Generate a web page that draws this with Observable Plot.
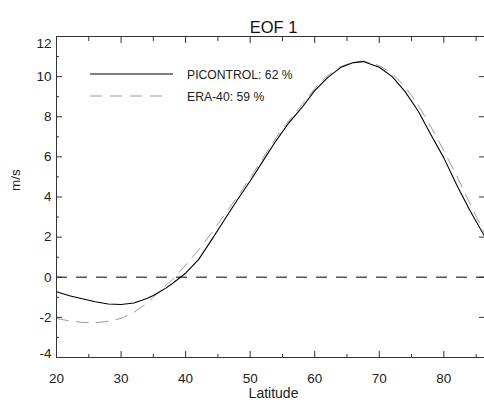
<!DOCTYPE html>
<html>
<head>
<meta charset="utf-8">
<script src="https://cdn.jsdelivr.net/npm/d3@7"></script>
<script src="https://cdn.jsdelivr.net/npm/@observablehq/plot@0.6"></script>
<style>
  html, body { margin: 0; padding: 0; background: #fff; }
  #wrap { position: relative; width: 484px; height: 405px; font-family: "Liberation Sans", Arial, sans-serif; }
  #legend { position: absolute; left: 0; top: 0; pointer-events: none; }
</style>
</head>
<body>
<div id="wrap"></div>
<script>
const title = "EOF 1";
const xLabel = "Latitude";
const yLabel = "m/s";
const seriesNames = ["PICONTROL: 62 %", "ERA-40: 59 %"];

const latitude  = [20, 22, 24, 26, 28, 30, 32, 34, 35, 36, 37, 38, 39, 40, 42, 44, 46, 48, 50, 52, 54, 56, 58, 60, 62, 64, 66, 67.5, 70, 72, 74, 76, 78, 80, 82, 84, 86.3];
const picontrol = [-0.72, -0.92, -1.07, -1.22, -1.33, -1.36, -1.28, -1.06, -0.91, -0.72, -0.53, -0.3, -0.05, 0.2, 0.88, 1.85, 2.85, 3.85, 4.8, 5.8, 6.8, 7.7, 8.45, 9.3, 9.95, 10.45, 10.7, 10.75, 10.47, 10.0, 9.25, 8.3, 7.1, 5.95, 4.6, 3.35, 2.05];
const era40     = [-2.05, -2.18, -2.25, -2.27, -2.2, -2.05, -1.75, -1.3, -1.0, -0.7, -0.38, -0.1, 0.25, 0.6, 1.35, 2.2, 3.1, 4.0, 4.95, 5.95, 6.95, 7.8, 8.6, 9.4, 10.05, 10.5, 10.72, 10.78, 10.55, 10.15, 9.5, 8.6, 7.5, 6.3, 5.05, 3.7, 2.2];

const xMajor = [20, 30, 40, 50, 60, 70, 80];
const xMinor = [25, 35, 45, 55, 65, 75, 85];
const yMajor = [-4, -2, 0, 2, 4, 6, 8, 10, 12];
const yMinor = [-3, -1, 1, 3, 5, 7, 9, 11];
const yInnerLabels = [-2, 0, 2, 4, 6, 8, 10];

const rows = latitude.map((lat, i) => ({lat, pic: picontrol[i], era: era40[i]}));

const axisColor = "#333";
const tickFont = 13.5;
const fmt = d => String(d);

const chart = Plot.plot({
  width: 484,
  height: 405,
  marginTop: 36,
  marginBottom: 48,
  marginLeft: 56,
  marginRight: 0,
  style: {fontFamily: "'Liberation Sans', Arial, sans-serif", fontSize: "13.5px", color: "#222", background: "#fff"},
  x: {domain: [20, 86.3]},
  y: {domain: [-4, 12]},
  marks: [
    Plot.ruleY([0], {stroke: "#555", strokeWidth: 1.5, strokeDasharray: "11,9"}),
    Plot.line(rows, {x: "lat", y: "era", stroke: "#9a9a9a", strokeWidth: 1, strokeDasharray: "12,8"}),
    Plot.line(rows, {x: "lat", y: "pic", stroke: "#000", strokeWidth: 1.1}),
    Plot.frame({stroke: axisColor, strokeWidth: 1}),
    // inward ticks (outward ticks shifted inside by their own length)
    Plot.axisX({anchor: "bottom", ticks: xMajor, tickSize: 6, dy: -6, tickFormat: () => "", label: null, stroke: axisColor}),
    Plot.axisX({anchor: "bottom", ticks: xMinor, tickSize: 3, dy: -3, tickFormat: () => "", label: null, stroke: axisColor}),
    Plot.axisX({anchor: "top", ticks: xMajor, tickSize: 6, dy: 6, tickFormat: () => "", label: null, stroke: axisColor}),
    Plot.axisX({anchor: "top", ticks: xMinor, tickSize: 4, dy: 4, tickFormat: () => "", label: null, stroke: axisColor}),
    Plot.axisY({anchor: "left", ticks: yMajor, tickSize: 6, dx: 6, tickFormat: () => "", label: null, stroke: axisColor}),
    Plot.axisY({anchor: "left", ticks: yMinor, tickSize: 3, dx: 3, tickFormat: () => "", label: null, stroke: axisColor}),
    Plot.axisY({anchor: "right", ticks: yMajor, tickSize: 6, dx: -6, tickFormat: () => "", label: null, stroke: axisColor}),
    // labels
    Plot.axisX({anchor: "bottom", ticks: xMajor, tickSize: 0, tickPadding: 16, tickFormat: fmt, label: null, fontSize: tickFont, fill: "#222"}),
    Plot.axisY({anchor: "left", ticks: yInnerLabels, tickSize: 0, tickPadding: 5, tickFormat: fmt, label: null, fontSize: tickFont, fill: "#222"}),
    Plot.axisY({anchor: "left", ticks: [12], tickSize: 0, tickPadding: 5, dy: 7, tickFormat: fmt, label: null, fontSize: tickFont, fill: "#222"}),
    Plot.axisY({anchor: "left", ticks: [-4], tickSize: 0, tickPadding: 5, dy: -4, tickFormat: fmt, label: null, fontSize: tickFont, fill: "#222"}),
    Plot.text([title], {text: d => d, frameAnchor: "top", dy: -15, dx: 3, fontSize: 16.5, fill: "#111"}),
    Plot.text([xLabel], {text: d => d, frameAnchor: "bottom", dy: 40, dx: 3, fontSize: 14, fill: "#222"}),
    Plot.text([yLabel], {text: d => d, frameAnchor: "left", dx: -41, dy: -6, rotate: -90, fontSize: 13.5, fill: "#222"})
  ]
});

const wrap = document.getElementById("wrap");
wrap.appendChild(chart);

// legend overlay
const ns = "http://www.w3.org/2000/svg";
const leg = document.createElementNS(ns, "svg");
leg.setAttribute("id", "legend");
leg.setAttribute("width", 484);
leg.setAttribute("height", 405);
const legendItems = [
  {name: seriesNames[0], stroke: "#000", dash: null, y: 74, x2: 173},
  {name: seriesNames[1], stroke: "#9a9a9a", dash: "12,8", y: 96, x2: 163}
];
legendItems.forEach(it => {
  const ln = document.createElementNS(ns, "line");
  ln.setAttribute("x1", 90); ln.setAttribute("x2", it.x2);
  ln.setAttribute("y1", it.y); ln.setAttribute("y2", it.y);
  ln.setAttribute("stroke", it.stroke);
  if (it.dash) ln.setAttribute("stroke-dasharray", it.dash);
  leg.appendChild(ln);
  const tx = document.createElementNS(ns, "text");
  tx.setAttribute("x", 187); tx.setAttribute("y", it.y + 1.5);
  tx.setAttribute("dominant-baseline", "middle");
  tx.setAttribute("font-size", "12.2px");
  tx.setAttribute("font-family", "'Liberation Sans', Arial, sans-serif");
  tx.setAttribute("fill", "#222");
  tx.textContent = it.name;
  leg.appendChild(tx);
});
wrap.appendChild(leg);
</script>
</body>
</html>
